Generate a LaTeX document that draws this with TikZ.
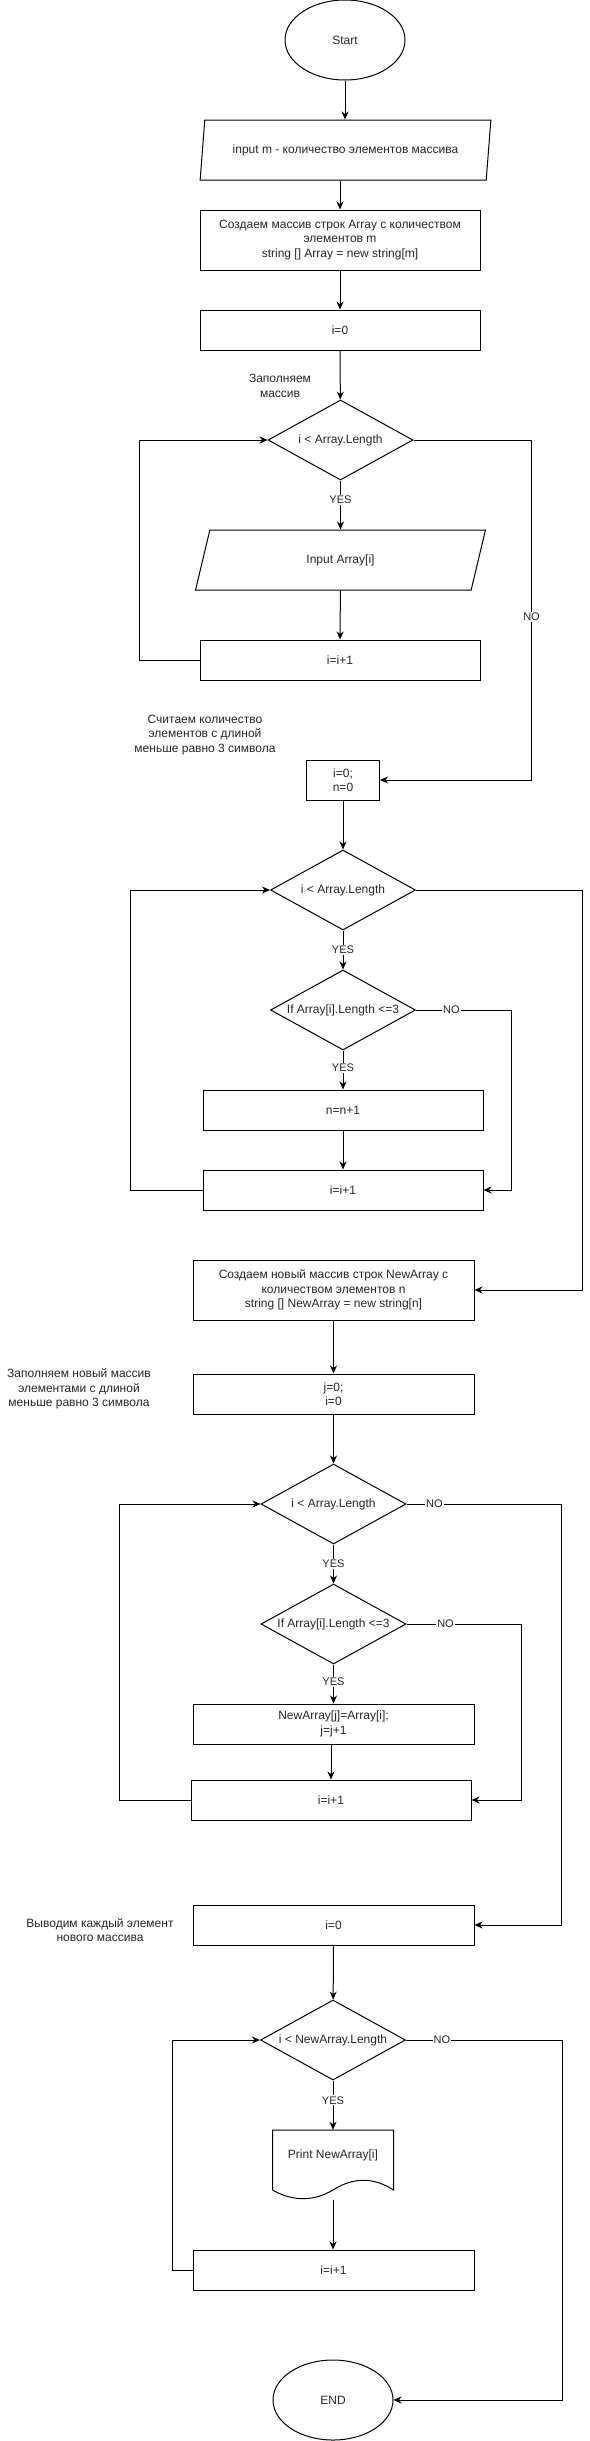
\documentclass[tikz,border=0pt]{standalone}
\usepackage{fontspec}
\setmainfont{Liberation Sans}
\usetikzlibrary{shapes.geometric,arrows.meta,calc}
\begin{document}
\begin{tikzpicture}[x=1pt,y=-1pt,
  every node/.style={font=\fontsize{12}{14.4}\selectfont, text=black!85, align=center},
  base/.style={draw, line width=1pt, inner sep=0pt},
  term/.style={base, ellipse, minimum width=120pt, minimum height=80pt},
  io/.style={base, trapezium, trapezium left angle=71.57, trapezium right angle=108.43, trapezium stretches=true, minimum width=291pt, minimum height=60pt},
  proc/.style={base, rectangle, minimum width=280pt, minimum height=40pt},
  dec/.style={base, diamond, minimum width=145pt, minimum height=80pt},
  note/.style={font=\fontsize{12}{14.4}\selectfont},
  lbl/.style={fill=white, font=\fontsize{11}{13}\selectfont, inner sep=1pt},
  arr/.style={line width=1pt, -{Stealth[length=8pt,width=7pt,inset=2.5pt]}},
  ln/.style={line width=1pt},
]
\useasboundingbox (0,0) rectangle (589,2441);

% nodes
\node[term] (start) at (345,40) {Start};
\node[io] (in1) at (345.5,150) {input m - количество элементов массива};
\node[proc, minimum height=60pt] (create) at (340,240) {Создаем массив строк Array с количеством\\элементов m\\string [] Array = new string[m]};
\node[proc] (i0) at (340,330) {i=0};
\node[note] (lbl1) at (280,386) {Заполняем\\массив};
\node[dec, label={center:{i < Array.Length}}] (d1) at (340.5,440) {};
\node[io] (in2) at (340.5,560) {Input Array[i]};
\node[proc] (inc1) at (340,660) {i=i+1};
\node[note] (lbl2) at (205,735) {Считаем количество\\элементов с длиной\\меньше равно 3 символа};
\node[proc, minimum width=73pt] (in0) at (343,780) {i=0;\\n=0};
\node[dec, label={center:{i < Array.Length}}] (d2) at (343,890) {};
\node[dec, label={center:{If Array[i].Length <=3}}] (d3) at (343,1010) {};
\node[proc] (nn) at (343,1110) {n=n+1};
\node[proc] (inc2) at (343,1190) {i=i+1};
\node[proc, minimum width=281pt, minimum height=60pt] (newarr) at (333.5,1290) {Создаем новый массив строк NewArray с\\количеством элементов n\\string [] NewArray = new string[n]};
\node[proc, minimum width=281pt] (j0) at (333.5,1394) {j=0;\\i=0};
\node[note] (lbl3) at (79,1389) {Заполняем новый массив\\элементами с длиной\\меньше равно 3 символа};
\node[dec, label={center:{i < Array.Length}}] (d4) at (333.5,1504) {};
\node[dec, label={center:{If Array[i].Length <=3}}] (d5) at (333.5,1624) {};
\node[proc, minimum width=281pt] (cp) at (333.5,1724) {NewArray[j]=Array[i];\\j=j+1};
\node[proc] (inc3) at (331,1800) {i=i+1};
\node[proc, minimum width=281pt] (p0) at (333.5,1925) {i=0};
\node[note] (lbl4) at (100,1930) {Выводим каждый элемент\\нового массива};
\node[dec, label={center:{i < NewArray.Length}}] (d6) at (333,2040) {};
\node[minimum width=121pt, minimum height=50pt, inner sep=0pt] (doc) at (333,2155) {Print NewArray[i]};
\draw[ln] (272.5,2190) -- (272.5,2130) -- (393.5,2130) -- (393.5,2190)
  .. controls (375,2178) and (355,2176) .. (333,2190)
  .. controls (311,2203) and (290,2200) .. (272.5,2190);
\coordinate (docb) at (333,2200);
\node[proc, minimum width=281pt] (inc4) at (333.5,2270) {i=i+1};
\node[term] (end) at (333,2400) {END};

% connectors
\draw[arr] (start.south) -- (start.south |- in1.north);
\draw[arr] (create.north |- in1.south) -- (create.north);
\draw[arr] (create) -- (i0);
\draw[arr] (i0) -- (d1);
\draw[arr] (d1) -- node[lbl, pos=0.4] {YES} (in2);
\draw[arr] (in2) -- (inc1);
\draw[arr] (inc1.west) -- ++(-60,0) |- (d1.west);
\draw[arr] (d1.east) -- ++(118,0) |- (in0.east) node[lbl, pos=0.26] {NO};

\draw[arr] (in0) -- (d2);
\draw[arr] (d2) -- node[lbl, pos=0.5] {YES} (d3);
\draw[arr] (d3) -- node[lbl, pos=0.45] {YES} (nn);
\draw[arr] (nn) -- (inc2);
\draw[arr] (d3.east) -- ++(95.5,0) node[lbl, pos=0.37] {NO} |- (inc2.east);
\draw[arr] (inc2.west) -- ++(-72.5,0) |- (d2.west);
\draw[arr] (d2.east) -- ++(166,0) |- (newarr.east);

\draw[arr] (newarr) -- (j0);
\draw[arr] (j0) -- (d4);
\draw[arr] (d4) -- node[lbl, pos=0.5] {YES} (d5);
\draw[arr] (d4.east) -- ++(155,0) node[lbl, pos=0.18] {NO} |- (p0.east);
\draw[arr] (d5) -- node[lbl, pos=0.45] {YES} (cp);
\draw[arr] (d5.east) -- ++(114.7,0) node[lbl, pos=0.34] {NO} |- (inc3.east);
\draw[arr] (inc3.north |- cp.south) -- (inc3.north);
\draw[arr] (inc3.west) -- ++(-70.6,0) |- (d4.west);

\draw[arr] (p0) -- (d6);
\draw[arr] (d6) -- node[lbl, pos=0.4] {YES} (doc.north);
\draw[arr] (docb) -- (docb |- inc4.north);
\draw[arr] (inc4.west) -- ++(-20,0) |- (d6.west);
\draw[arr] (d6.east) -- ++(156,0) node[lbl, pos=0.23] {NO} |- (end.east);
\end{tikzpicture}
\end{document}
